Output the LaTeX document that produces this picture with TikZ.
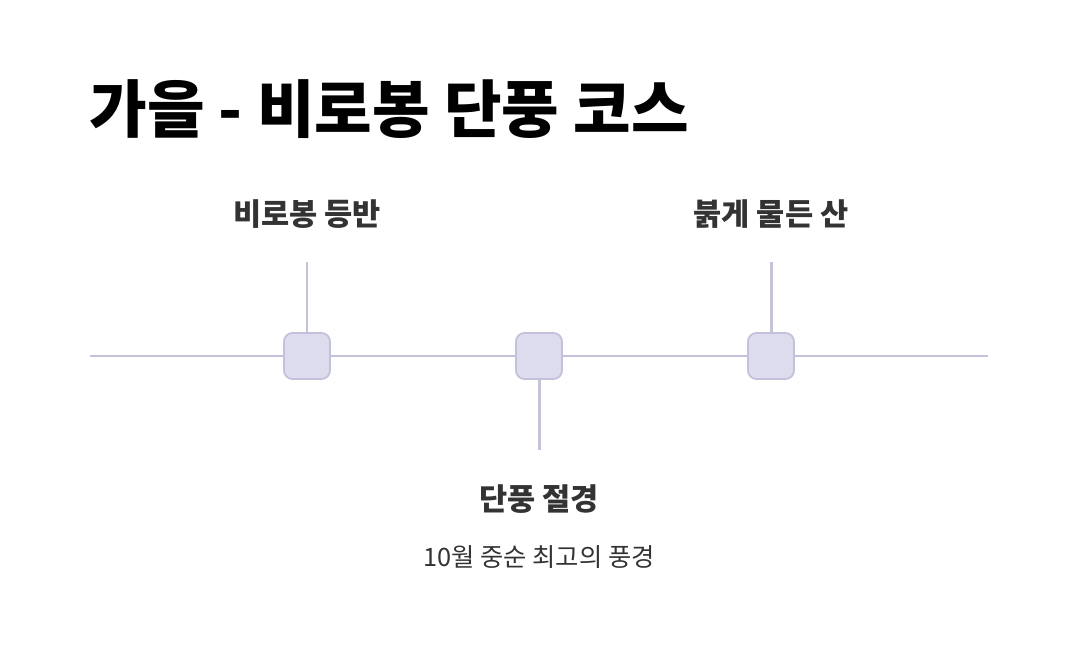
\documentclass[tikz,border=0pt]{standalone}
\usepackage{fontspec}
\setmainfont{Noto Sans CJK KR}
\usepackage{tikz}
\usetikzlibrary{positioning}
\definecolor{lineaGris}{HTML}{C4C3D9}
\definecolor{cajaLila}{HTML}{DCDCEE}
\definecolor{bordeLila}{HTML}{C3C2DA}
\definecolor{textoOscuro}{HTML}{333333}

\begin{document}
\begin{tikzpicture}[x=0.01cm, y=-0.01cm,
        stopbox/.style={draw=bordeLila, fill=cajaLila, line width=0.5pt, rounded corners=2.4pt,
            minimum size=0.46cm, inner sep=0pt},
        track/.style={lineaGris, line width=0.85pt},
        lbl/.style={text=textoOscuro, font=\fontsize{8.7pt}{10pt}\selectfont\bfseries, anchor=base},
        sub/.style={text=textoOscuro, font=\fontsize{7.2pt}{9pt}\selectfont, anchor=base},
        ttl/.style={text=black, font=\fontsize{17.8pt}{21pt}\selectfont\bfseries, anchor=base west}
    ]
        \useasboundingbox (0,0) rectangle (1076,646);

        \node[ttl] (title) at (77,133) {가을 - 비로봉 단풍 코스};

        % line and stops
        \coordinate (ini) at (90,356);
        \coordinate (fin) at (988,356);
        \node[stopbox] (s1) at (307,356) {};
        \node[stopbox] (s2) at (539,356) {};
        \node[stopbox] (s3) at (771,356) {};
        \draw[track] (ini) -- (s1) -- (s2) -- (s3) -- (fin);

        % stems
        \coordinate (t1) at (307,262);
        \coordinate (t2) at (539,450);
        \coordinate (t3) at (771,262);
        \draw[track] (s1) -- (t1);
        \draw[track] (s2) -- (t2);
        \draw[track] (s3) -- (t3);

        \node[lbl] (l1) at (307,226) {비로봉 등반};
        \node[lbl] (l3) at (771,226) {붉게 물든 산};
        \node[lbl] (l2) at (539,510) {단풍 절경};
        \node[sub] (d2) at (539,566) {10월 중순 최고의 풍경};
    \end{tikzpicture}
\end{document}
